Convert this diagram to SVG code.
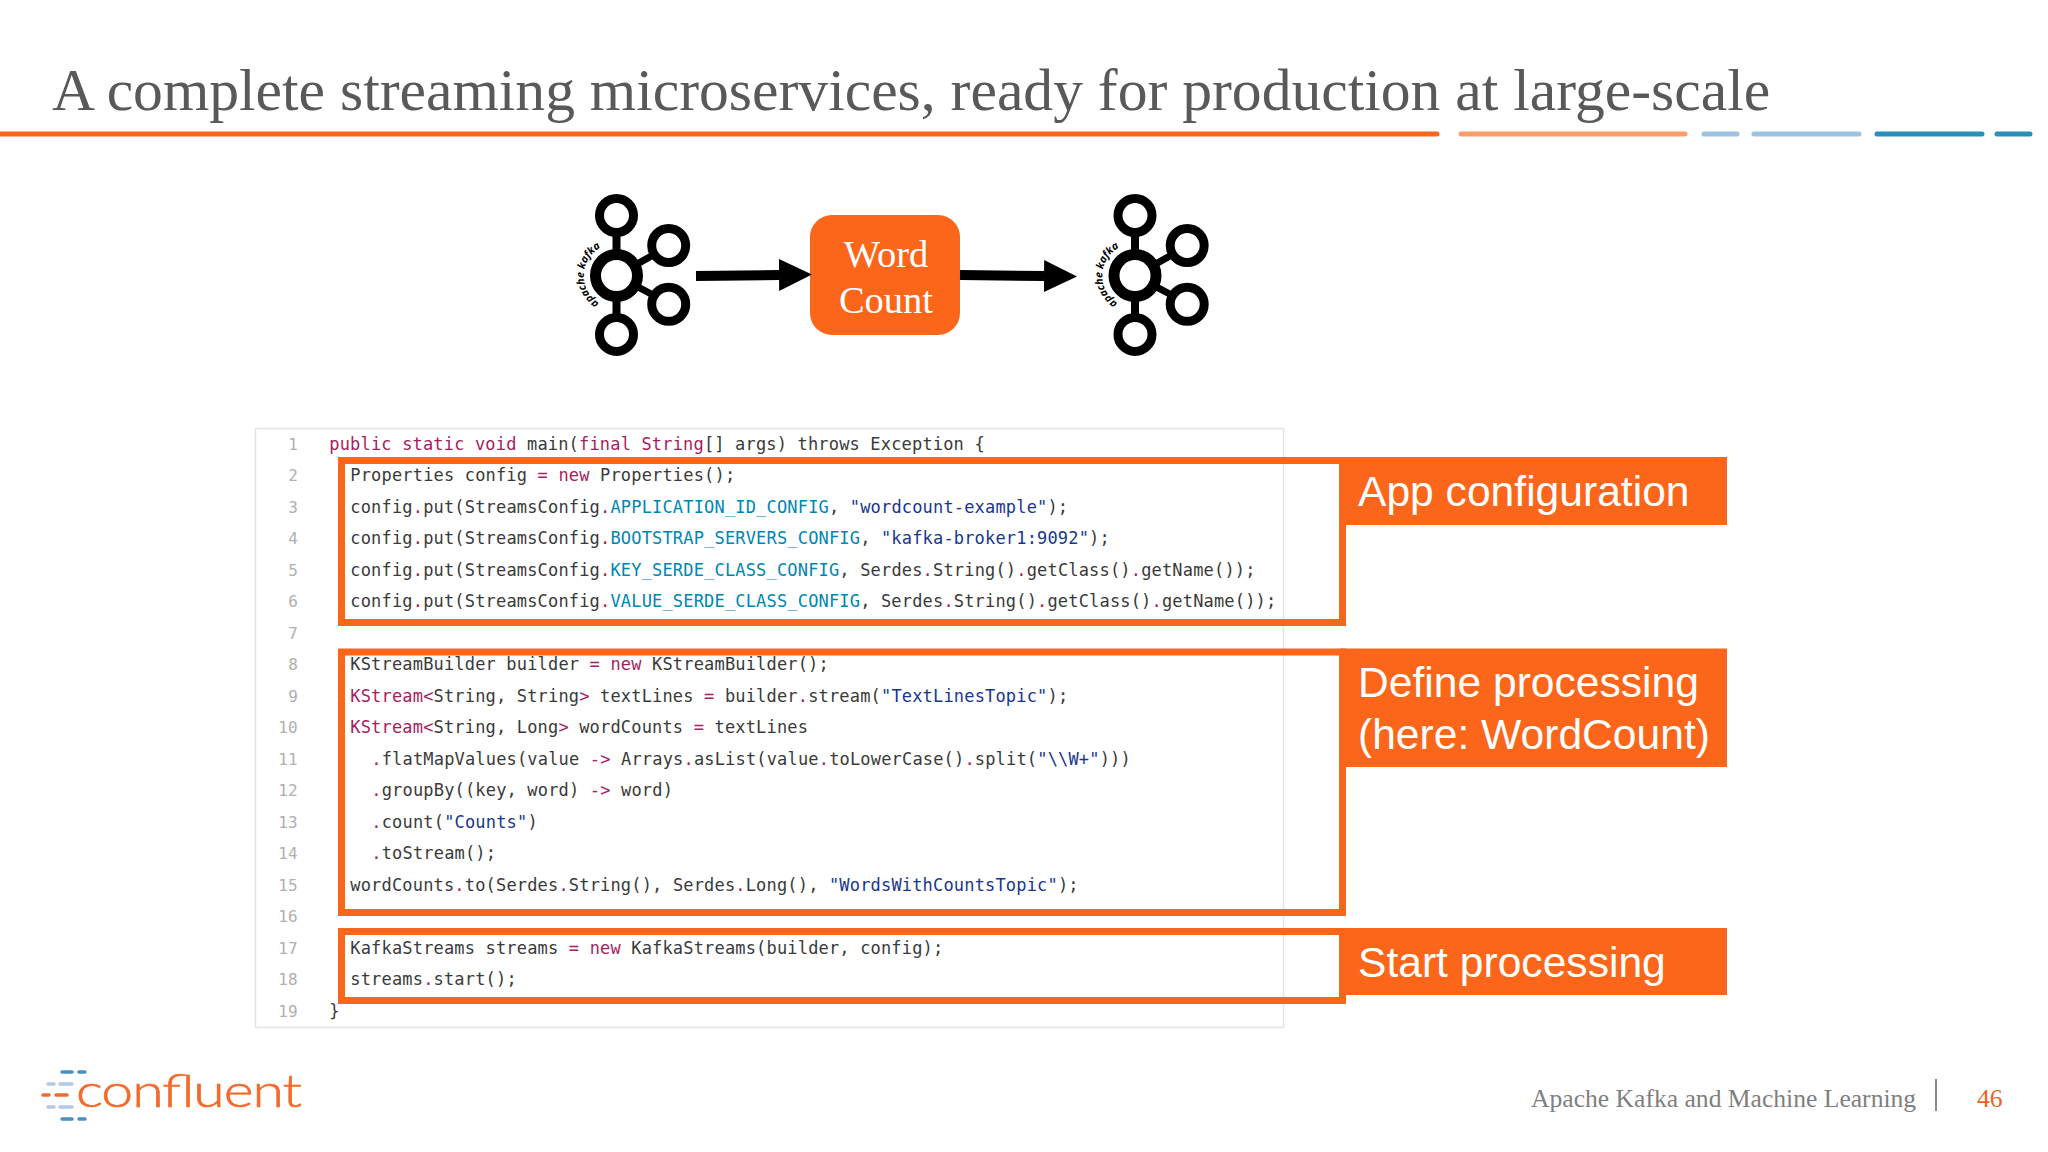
<svg xmlns="http://www.w3.org/2000/svg" xmlns:xlink="http://www.w3.org/1999/xlink" width="2048" height="1152" viewBox="0 0 2048 1152">
<style>
.title{font:59.6px "Liberation Serif",serif;fill:#595959}
.code{font:17px "DejaVu Sans Mono","Liberation Mono",monospace;letter-spacing:.17px;fill:#3a3a3a}
.num{font:16px "DejaVu Sans Mono","Liberation Mono",monospace;fill:#b0b0b0;text-anchor:middle}
.k{fill:#a71d5d}.c{fill:#0086b3}.s{fill:#183691}
.box{fill:none;stroke:#fb661a;stroke-width:7}
.tag{fill:#fb661a}
.tagt{font:42.6px "Liberation Sans",Arial,sans-serif;fill:#fff}
.wc{font:38.5px "Liberation Serif",serif;fill:#fff;text-anchor:middle}
.ring{fill:#fff;stroke:#000;stroke-width:9}
.bar{stroke:#000;stroke-width:8}
.ap{font:italic 700 10.500px "Open Sans",sans-serif;fill:#000}
.conn{stroke:#000;stroke-width:10;fill:none;marker-end:url(#ah)}
.rule{stroke-width:5;stroke-linecap:round;fill:none}
.d{stroke-width:3.5;stroke-linecap:round;fill:none}
.foot{font:25.6px "Liberation Serif",serif;fill:#7f7f7f}
</style>
<defs>
<marker id="ah" markerUnits="userSpaceOnUse" markerWidth="34" markerHeight="32" refX="0" refY="16" orient="auto"><path d="M0 0L33 16L0 32Z" fill="#000"/></marker>
<path id="arc" d="M599 303A32 32 0 0 1 604 246" />
<g id="kafka">
<line class="bar" x1="616.5" y1="232" x2="616.5" y2="318"/>
<line class="bar" x1="616.5" y1="275.6" x2="655" y2="254" style="stroke-width:7"/>
<line class="bar" x1="616.5" y1="275.6" x2="655" y2="296" style="stroke-width:7"/>
<circle class="ring" cx="616.5" cy="215.5" r="17"/>
<circle cx="616.5" cy="275.6" r="21" fill="#fff" stroke="#000" stroke-width="11"/>
<circle class="ring" cx="668.7" cy="245.5" r="17"/>
<circle class="ring" cx="668.7" cy="304.3" r="17"/>
<circle class="ring" cx="616.5" cy="334.4" r="17"/>
<text class="ap"><textPath xlink:href="#arc" href="#arc">apache kafka</textPath></text>
</g>
</defs>
<rect width="2048" height="1152" fill="#fff"/>
<text class="title" x="52" y="109.500">A complete streaming microservices, ready for production at large-scale</text>
<g id="rules">
<path class="rule" stroke="#fb661a" d="M0 134H1437"/>
<path class="rule" stroke="#fd9c6b" d="M1461 134H1685"/>
<path class="rule" stroke="#9cc3e2" d="M1704 134H1737M1754 134H1859"/>
<path class="rule" stroke="#2a8fba" d="M1877 134H1982M1997 134H2030"/>
</g>
<g id="kafka-in"><use href="#kafka"/></g>
<g id="word-count">
<rect x="810" y="215" width="150" height="120" rx="22" fill="#fb661a"/>
<text class="wc" x="886" y="267">Word</text>
<text class="wc" x="886" y="313">Count</text>
</g>
<g id="kafka-out"><use href="#kafka" x="518.5"/></g>
<g id="connectors">
<line class="conn" x1="696" y1="276" x2="779" y2="275"/>
<line class="conn" x1="960" y1="275" x2="1044" y2="276"/>
</g>
<g id="code-panel">
<rect x="255.5" y="428.5" width="1028" height="599" fill="#fff" stroke="#e4e4e4" stroke-width="1.5"/>
<g id="line-numbers">
<text class="num" x="293" y="449.700">1</text><text class="num" x="293" y="481.200">2</text><text class="num" x="293" y="512.700">3</text><text class="num" x="293" y="544.200">4</text><text class="num" x="293" y="575.700">5</text><text class="num" x="293" y="607.200">6</text><text class="num" x="293" y="638.700">7</text><text class="num" x="293" y="670.200">8</text><text class="num" x="293" y="701.700">9</text><text class="num" x="288" y="733.200">10</text><text class="num" x="288" y="764.700">11</text><text class="num" x="288" y="796.200">12</text><text class="num" x="288" y="827.700">13</text><text class="num" x="288" y="859.200">14</text><text class="num" x="288" y="890.700">15</text><text class="num" x="288" y="922.200">16</text><text class="num" x="288" y="953.700">17</text><text class="num" x="288" y="985.200">18</text><text class="num" x="288" y="1016.700">19</text>
</g>
<g id="code">
<text class="code" x="329.300" y="449.700"><tspan class="k">public static void</tspan> main(<tspan class="k">final String</tspan>[] args) throws Exception {</text>
<text class="code" x="350.300" y="481.200">Properties config <tspan class="k">=</tspan> <tspan class="k">new</tspan> Properties();</text>
<text class="code" x="350.300" y="512.700">config<tspan class="k">.</tspan>put(StreamsConfig<tspan class="k">.</tspan><tspan class="c">APPLICATION_ID_CONFIG</tspan>, <tspan class="s">"wordcount-example"</tspan>);</text>
<text class="code" x="350.300" y="544.200">config<tspan class="k">.</tspan>put(StreamsConfig<tspan class="k">.</tspan><tspan class="c">BOOTSTRAP_SERVERS_CONFIG</tspan>, <tspan class="s">"kafka-broker1:9092"</tspan>);</text>
<text class="code" x="350.300" y="575.700">config<tspan class="k">.</tspan>put(StreamsConfig<tspan class="k">.</tspan><tspan class="c">KEY_SERDE_CLASS_CONFIG</tspan>, Serdes<tspan class="k">.</tspan>String()<tspan class="k">.</tspan>getClass()<tspan class="k">.</tspan>getName());</text>
<text class="code" x="350.300" y="607.200">config<tspan class="k">.</tspan>put(StreamsConfig<tspan class="k">.</tspan><tspan class="c">VALUE_SERDE_CLASS_CONFIG</tspan>, Serdes<tspan class="k">.</tspan>String()<tspan class="k">.</tspan>getClass()<tspan class="k">.</tspan>getName());</text>
<text class="code" x="350.300" y="670.200">KStreamBuilder builder <tspan class="k">=</tspan> <tspan class="k">new</tspan> KStreamBuilder();</text>
<text class="code" x="350.300" y="701.700"><tspan class="k">KStream&lt;</tspan>String, String<tspan class="k">&gt;</tspan> textLines <tspan class="k">=</tspan> builder<tspan class="k">.</tspan>stream(<tspan class="s">"TextLinesTopic"</tspan>);</text>
<text class="code" x="350.300" y="733.200"><tspan class="k">KStream&lt;</tspan>String, Long<tspan class="k">&gt;</tspan> wordCounts <tspan class="k">=</tspan> textLines</text>
<text class="code" x="371.300" y="764.700"><tspan class="k">.</tspan>flatMapValues(value <tspan class="k">-&gt;</tspan> Arrays<tspan class="k">.</tspan>asList(value<tspan class="k">.</tspan>toLowerCase()<tspan class="k">.</tspan>split(<tspan class="s">"\\W+"</tspan>)))</text>
<text class="code" x="371.300" y="796.200"><tspan class="k">.</tspan>groupBy((key, word) <tspan class="k">-&gt;</tspan> word)</text>
<text class="code" x="371.300" y="827.700"><tspan class="k">.</tspan>count(<tspan class="s">"Counts"</tspan>)</text>
<text class="code" x="371.300" y="859.200"><tspan class="k">.</tspan>toStream();</text>
<text class="code" x="350.300" y="890.700">wordCounts<tspan class="k">.</tspan>to(Serdes<tspan class="k">.</tspan>String(), Serdes<tspan class="k">.</tspan>Long(), <tspan class="s">"WordsWithCountsTopic"</tspan>);</text>
<text class="code" x="350.300" y="953.700">KafkaStreams streams <tspan class="k">=</tspan> <tspan class="k">new</tspan> KafkaStreams(builder, config);</text>
<text class="code" x="350.300" y="985.200">streams<tspan class="k">.</tspan>start();</text>
<text class="code" x="329.300" y="1016.700">}</text>
</g>
</g>
<g id="app-configuration">
<rect class="box" x="341.500" y="460.500" width="1001" height="162"/>
<rect class="tag" x="1340" y="457" width="387" height="68"/>
<text class="tagt" x="1358" y="506">App configuration</text>
</g>
<g id="define-processing">
<rect class="box" x="341.500" y="652" width="1001" height="260.500"/>
<rect class="tag" x="1340" y="648.500" width="387" height="118.500"/>
<text class="tagt" x="1358" y="697">Define processing</text>
<text class="tagt" x="1358" y="749">(here: WordCount)</text>
</g>
<g id="start-processing">
<rect class="box" x="341.500" y="931.500" width="1001" height="69"/>
<rect class="tag" x="1340" y="928" width="387" height="67"/>
<text class="tagt" x="1358" y="977">Start processing</text>
</g>
<g id="logo">
<path class="d" stroke="#4a90c2" d="M62 1072H72M79 1072H85M62 1119H72M79 1119H85"/>
<path class="d" stroke="#b4c7e7" d="M48 1084H54M60 1084H72M48 1107H54M60 1107H72"/>
<path class="d" stroke="#f26a2c" d="M43 1095H49M56 1095H67"/>
<text transform="translate(76 1107) scale(1.27 1)" font-family="Lato,sans-serif" font-weight="300" font-size="45" fill="#f26a2c" stroke="#f26a2c" stroke-width=".6" textLength="178" lengthAdjust="spacing">confluent</text>
</g>
<g id="footer">
<text class="foot" x="1531" y="1107">Apache Kafka and Machine Learning</text>
<line x1="1936" y1="1079" x2="1936" y2="1111" stroke="#888" stroke-width="2"/>
<text class="foot" x="1977" y="1107" style="fill:#e8641f">46</text>
</g>
</svg>
